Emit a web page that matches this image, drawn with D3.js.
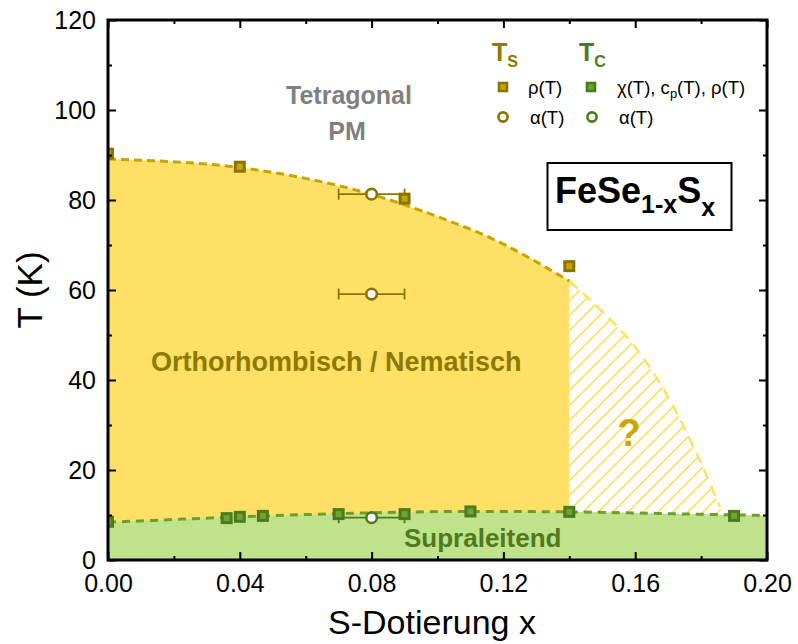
<!DOCTYPE html>
<html>
<head>
<meta charset="utf-8">
<script src="https://cdn.jsdelivr.net/npm/d3@7"></script>
<style>
  body { margin: 0; background: #fff; }
  svg { display: block; font-family: "Liberation Sans", Arial, sans-serif; }
</style>
</head>
<body>
<svg id="chart" width="798" height="644"></svg>
<script>
// ---- Phase diagram data for FeSe(1-x)S(x) ----
// Structural / nematic transition Ts from resistivity rho(T)
const tsRho = [[0.000, 90.3], [0.040, 87.4], [0.090, 80.3], [0.140, 65.3]];
// Ts from thermal expansion alpha(T), with horizontal uncertainty in x
const tsAlpha = [[0.080, 81.3], [0.080, 59.1]];
const tsAlphaXErr = [0.01, 0.01];
// Superconducting Tc from chi(T), cp(T), rho(T)
const tcMain = [[0.000, 8.5], [0.036, 9.3], [0.040, 9.6], [0.047, 9.8], [0.070, 10.2],
                [0.090, 10.2], [0.110, 10.8], [0.140, 10.7], [0.190, 9.8]];
// Tc from thermal expansion alpha(T)
const tcAlpha = [[0.080, 9.4]];
const tcAlphaXErr = [0.01];

// Guide-to-the-eye phase boundaries
const tsBoundary = [[0.000, 89.1], [0.040, 87.2], [0.0825, 80.7], [0.104, 75.2],
                    [0.113, 72.6], [0.140, 62.0]];
const tsUncertain = [[0.140, 62.0], [0.150, 55.2], [0.160, 47.3], [0.170, 36.2],
                     [0.180, 21.5], [0.1857, 11.8], [0.1875, 9.0]];
const tcBoundary = [[0.000, 8.4], [0.020, 9.0], [0.040, 9.6], [0.070, 10.3], [0.110, 10.8],
                    [0.140, 10.7], [0.170, 10.3], [0.200, 9.9]];

// Axis ticks
const xTicks = [0.00, 0.04, 0.08, 0.12, 0.16, 0.20];
const xMinor = [0.02, 0.06, 0.10, 0.14, 0.18];
const yTicks = [0, 20, 40, 60, 80, 100, 120];
const yMinor = [10, 30, 50, 70, 90, 110];

// ---- Styling ----
const C = {
  yellowFill: "#FFE066",
  greenFill: "#C0E28A",
  tsLine: "#C9A400",
  tsMarkStroke: "#8A7400",
  tsMarkFill: "#C8A600",
  tcLine: "#6E9F2C",
  tcMarkStroke: "#4D7A1B",
  tcMarkFill: "#6FA335",
  goldText: "#8C7A00",
  greenText: "#4F7A1E",
  gray: "#808080",
  question: "#C9A600"
};

const svg = d3.select("#chart");
const L = 108, R = 767, T = 20, B = 560;
const x = d3.scaleLinear().domain([0, 0.2]).range([L, R]);
const y = d3.scaleLinear().domain([0, 120]).range([B, T]);

const defs = svg.append("defs");
defs.append("clipPath").attr("id", "plotClip")
  .append("rect").attr("x", L).attr("y", T).attr("width", R - L).attr("height", B - T);

// diagonal hatch for the uncertain nematic region
const hp = 15;
const hatch = defs.append("pattern").attr("id", "hatch")
  .attr("patternUnits", "userSpaceOnUse").attr("width", hp).attr("height", hp);
hatch.append("path")
  .attr("d", `M-1,${hp + 1} L${hp + 1},-1 M-4,4 L4,-4 M${hp - 4},${hp + 4} L${hp + 4},${hp - 4}`)
  .attr("stroke", C.yellowFill).attr("stroke-width", 1.7).attr("fill", "none");

const plot = svg.append("g").attr("clip-path", "url(#plotClip)");

const area = d3.area().x(d => x(d[0])).y0(y(0)).y1(d => y(d[1])).curve(d3.curveMonotoneX);
const line = d3.line().x(d => x(d[0])).y(d => y(d[1])).curve(d3.curveMonotoneX);

// Phase regions: nematic (yellow), uncertain (hatched), superconducting (green) on top
plot.append("path").datum(tsBoundary).attr("d", area).attr("fill", C.yellowFill);
plot.append("path").datum(tsUncertain).attr("d", area).attr("fill", "url(#hatch)");
plot.append("path").datum(tcBoundary).attr("d", area).attr("fill", C.greenFill);

// Boundary lines
plot.append("path").datum(tsUncertain.slice(0, -1)).attr("d", line)
  .attr("fill", "none").attr("stroke", C.yellowFill).attr("stroke-width", 2.5)
  .attr("stroke-dasharray", "11,7");
plot.append("path").datum(tsBoundary).attr("d", line)
  .attr("fill", "none").attr("stroke", C.tsLine).attr("stroke-width", 3)
  .attr("stroke-dasharray", "8,5");
plot.append("path").datum(tcBoundary).attr("d", line)
  .attr("fill", "none").attr("stroke", C.tcLine).attr("stroke-width", 3)
  .attr("stroke-dasharray", "8,6");

// Error bars (horizontal) for alpha(T) points
function errorBars(g, pts, errs, color) {
  pts.forEach((p, i) => {
    const x0 = x(p[0] - errs[i]), x1 = x(p[0] + errs[i]), yy = y(p[1]);
    g.append("line").attr("x1", x0).attr("x2", x1).attr("y1", yy).attr("y2", yy)
      .attr("stroke", color).attr("stroke-width", 1.8);
    [x0, x1].forEach(xc => g.append("line").attr("x1", xc).attr("x2", xc)
      .attr("y1", yy - 5.5).attr("y2", yy + 5.5).attr("stroke", color).attr("stroke-width", 1.8));
  });
}
errorBars(plot, tsAlpha, tsAlphaXErr, C.tsMarkStroke);
errorBars(plot, tcAlpha, tcAlphaXErr, C.tcMarkStroke);

function squares(g, pts, stroke, fill, s) {
  g.selectAll(null).data(pts).join("rect")
    .attr("x", d => x(d[0]) - s / 2).attr("y", d => y(d[1]) - s / 2)
    .attr("width", s).attr("height", s)
    .attr("fill", fill).attr("stroke", stroke).attr("stroke-width", 3);
}
function circles(g, pts, stroke, r) {
  g.selectAll(null).data(pts).join("circle")
    .attr("cx", d => x(d[0])).attr("cy", d => y(d[1])).attr("r", r)
    .attr("fill", "#fff").attr("stroke", stroke).attr("stroke-width", 2.6);
}
squares(plot, tsRho, C.tsMarkStroke, C.tsMarkFill, 9);
squares(plot, tcMain, C.tcMarkStroke, C.tcMarkFill, 9);
circles(plot, tsAlpha, C.tsMarkStroke, 5.3);
circles(plot, tcAlpha, C.tcMarkStroke, 5.3);

// Region labels
svg.append("text").attr("x", 349).attr("y", 104).attr("text-anchor", "middle")
  .attr("font-size", 25).attr("font-weight", "bold").attr("fill", C.gray).text("Tetragonal");
svg.append("text").attr("x", 347).attr("y", 140).attr("text-anchor", "middle")
  .attr("font-size", 25).attr("font-weight", "bold").attr("fill", C.gray).text("PM");
svg.append("text").attr("x", 151).attr("y", 371).attr("font-size", 27)
  .attr("font-weight", "bold").attr("fill", C.goldText).text("Orthorhombisch / Nematisch");
svg.append("text").attr("x", 404).attr("y", 547).attr("font-size", 26)
  .attr("font-weight", "bold").attr("fill", C.greenText).text("Supraleitend");
svg.append("text").attr("x", 629).attr("y", 446).attr("text-anchor", "middle").attr("font-size", 38)
  .attr("font-weight", "bold").attr("fill", C.question).text("?");

// Compound label box
svg.append("rect").attr("x", 547.5).attr("y", 163).attr("width", 184).attr("height", 67)
  .attr("fill", "#fff").attr("stroke", "#000").attr("stroke-width", 2);
const ft = svg.append("text").attr("x", 555).attr("y", 203).attr("font-size", 36)
  .attr("font-weight", "bold").attr("fill", "#000");
ft.append("tspan").text("FeSe");
ft.append("tspan").attr("font-size", 25).attr("dy", 10).text("1-x");
ft.append("tspan").attr("dy", -10).text("S");
ft.append("tspan").attr("font-size", 25).attr("dy", 13).text("x");

// Legend
const leg = svg.append("g");
const tsHead = leg.append("text").attr("x", 492).attr("y", 61).attr("font-size", 25)
  .attr("font-weight", "bold").attr("fill", C.goldText);
tsHead.append("tspan").text("T");
tsHead.append("tspan").attr("font-size", 16).attr("dy", 6).text("S");
const tcHead = leg.append("text").attr("x", 579).attr("y", 61).attr("font-size", 25)
  .attr("font-weight", "bold").attr("fill", C.greenText);
tcHead.append("tspan").text("T");
tcHead.append("tspan").attr("font-size", 16).attr("dy", 6).text("C");

function legSquare(cx, cy, stroke, fill) {
  leg.append("rect").attr("x", cx - 4).attr("y", cy - 4).attr("width", 8).attr("height", 8)
    .attr("fill", fill).attr("stroke", stroke).attr("stroke-width", 2.6);
}
function legCircle(cx, cy, stroke) {
  leg.append("circle").attr("cx", cx).attr("cy", cy).attr("r", 4.6)
    .attr("fill", "#fff").attr("stroke", stroke).attr("stroke-width", 2.6);
}
legSquare(503, 87, C.tsMarkStroke, C.tsMarkFill);
legSquare(591, 87, C.tcMarkStroke, C.tcMarkFill);
legCircle(503, 117, C.tsMarkStroke);
legCircle(592, 117, C.tcMarkStroke);
const lfs = 18.5;
leg.append("text").attr("x", 528).attr("y", 94).attr("font-size", lfs).text("ρ(T)");
const chi = leg.append("text").attr("x", 617).attr("y", 94).attr("font-size", lfs);
chi.append("tspan").text("χ(T), c");
chi.append("tspan").attr("font-size", 13).attr("dy", 4).text("p");
chi.append("tspan").attr("dy", -4).text("(T), ρ(T)");
leg.append("text").attr("x", 530).attr("y", 124).attr("font-size", lfs).text("α(T)");
leg.append("text").attr("x", 619).attr("y", 124).attr("font-size", lfs).text("α(T)");

// Axes: inward ticks, mirrored on top and right
const fmt = d3.format(".2f");
function styleAxis(g) {
  g.select(".domain").remove();
  g.selectAll(".tick line").attr("stroke", "#000").attr("stroke-width", 2);
  g.selectAll(".tick text").attr("font-size", 25).attr("fill", "#000")
    .attr("font-family", "Liberation Sans, Arial, sans-serif");
}
svg.append("g").attr("transform", `translate(0,${B})`)
  .call(d3.axisBottom(x).tickValues(xTicks).tickFormat(fmt).tickSize(-8).tickPadding(14)).call(styleAxis);
svg.append("g").attr("transform", `translate(0,${B})`)
  .call(d3.axisBottom(x).tickValues(xMinor).tickFormat("").tickSize(-4)).call(styleAxis);
svg.append("g").attr("transform", `translate(0,${T})`)
  .call(d3.axisTop(x).tickValues(xTicks).tickFormat("").tickSize(-8)).call(styleAxis);
svg.append("g").attr("transform", `translate(0,${T})`)
  .call(d3.axisTop(x).tickValues(xMinor).tickFormat("").tickSize(-4)).call(styleAxis);
svg.append("g").attr("transform", `translate(${L},0)`)
  .call(d3.axisLeft(y).tickValues(yTicks).tickSize(-8).tickPadding(12)).call(styleAxis);
svg.append("g").attr("transform", `translate(${L},0)`)
  .call(d3.axisLeft(y).tickValues(yMinor).tickFormat("").tickSize(-4)).call(styleAxis);
svg.append("g").attr("transform", `translate(${R},0)`)
  .call(d3.axisRight(y).tickValues(yTicks).tickFormat("").tickSize(-8)).call(styleAxis);
svg.append("g").attr("transform", `translate(${R},0)`)
  .call(d3.axisRight(y).tickValues(yMinor).tickFormat("").tickSize(-4)).call(styleAxis);

// Frame
svg.append("rect").attr("x", L).attr("y", T).attr("width", R - L).attr("height", B - T)
  .attr("fill", "none").attr("stroke", "#000").attr("stroke-width", 3);

// Axis titles
svg.append("text").attr("x", 432).attr("y", 634).attr("text-anchor", "middle")
  .attr("font-size", 34).attr("fill", "#000").text("S-Dotierung x");
svg.append("text").attr("transform", "translate(42,290) rotate(-90)").attr("text-anchor", "middle")
  .attr("font-size", 35).attr("fill", "#000").text("T (K)");
</script>
</body>
</html>
